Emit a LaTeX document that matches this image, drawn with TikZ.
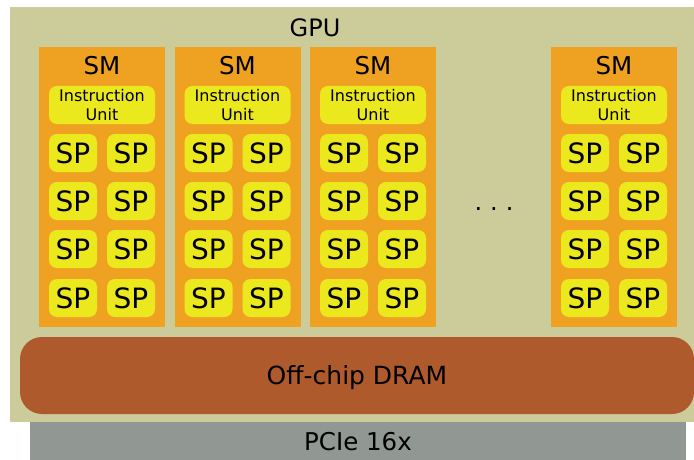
\documentclass[tikz,border=0pt]{standalone}
\usepackage{fontspec}
\setmainfont{DejaVu Sans}
\usetikzlibrary{positioning}
\definecolor{ChipKhaki}{RGB}{204,204,154}
\definecolor{SMOrange}{RGB}{239,162,34}
\definecolor{UnitYellow}{RGB}{235,232,30}
\definecolor{DramBrown}{RGB}{175,90,44}
\definecolor{BusGrey}{RGB}{145,151,147}

\begin{document}
\begin{tikzpicture}[x=1pt, y=-1pt,
  chipbox/.style={fill=ChipKhaki, inner sep=0pt, anchor=north west},
  smbox/.style={fill=SMOrange, minimum width=126pt, minimum height=280pt, inner sep=0pt},
  smtitle/.style={inner sep=0pt, font=\fontsize{24.5}{28}\selectfont},
  unitbox/.style={fill=UnitYellow, rounded corners=8pt, minimum width=106pt, minimum height=38pt,
    inner sep=0pt, align=center, font=\fontsize{16}{19}\selectfont},
  spbox/.style={fill=UnitYellow, rounded corners=8pt, minimum width=48pt, minimum height=38pt,
    inner sep=0pt, font=\fontsize{28}{31}\selectfont},
  bigtext/.style={inner sep=0pt, font=\fontsize{24}{28}\selectfont}
]
\useasboundingbox (0,0) rectangle (694,460);

% chip and bus
\node[chipbox, minimum width=684pt, minimum height=415pt] (gpu) at (10,7) {};
\node[fill=BusGrey, minimum width=656pt, minimum height=38pt, inner sep=0pt,
  font=\fontsize{24.5}{28}\selectfont, text depth=0pt] (pcie) at (358,441) {PCIe 16x};
\node[bigtext] (gpuname) at (315,28) {GPU};

% streaming multiprocessors
\foreach \x [count=\i] in {102,237.5,373,614} {
  \node[smbox] (sm\i) at (\x,187) {};
  \node[smtitle] (smname\i) at (\x,65.5) {SM};
  \node[unitbox] (iu\i) at (\x,105) {Instruction\\Unit};
  \foreach \y [count=\j] in {153,201,249,298} {
    \node[spbox] (sp-\i-\j-a) at (\x-29,\y) {SP};
    \node[spbox] (sp-\i-\j-b) at (\x+29,\y) {SP};
  }
}
\node[bigtext] (dots) at (494,209) {.\hspace{8pt}.\hspace{8pt}.};

% memory
\node[fill=DramBrown, rounded corners=22pt, minimum width=674pt, minimum height=77pt,
  inner sep=0pt, font=\fontsize{25}{29}\selectfont, text depth=0pt] (dram) at (357,375.5) {Off-chip DRAM};
\end{tikzpicture}
\end{document}
